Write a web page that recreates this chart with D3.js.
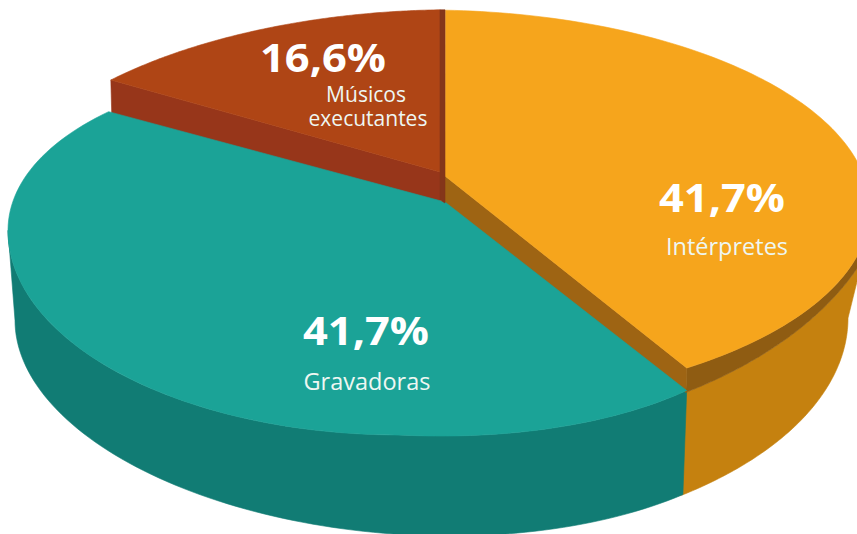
<!DOCTYPE html>
<html lang="pt">
<head>
<meta charset="utf-8">
<title>Distribuição por categoria</title>
<script src="https://cdn.jsdelivr.net/npm/d3@7/dist/d3.min.js"></script>
<style>
  html, body { margin: 0; padding: 0; background: #fff; overflow: hidden; }
  svg { display: block; }
  text { font-family: "Open Sans", sans-serif; fill: #fff; text-anchor: middle; }
  .pct { font-weight: 700; font-size: 40px; }
  .name { font-weight: 400; fill: #eef7f2; }
</style>
</head>
<body>
<svg id="chart" width="857" height="534"></svg>
<script>
// Shares, clockwise from twelve o'clock
const categories = ["Intérpretes", "Gravadoras", "Músicos executantes"];
const shares = [41.7, 41.7, 16.6];

const faceColors = ["#f6a51c", "#1ba397", "#af4515"];
const cutColors  = ["#9e6413", "#117c74", "#97361a"];
const rimColors  = ["#c5810f", "#117c74", "#84361a"];
const bandColor  = "#8f5c12";

const svg = d3.select("#chart");
const rad = Math.PI / 180;

// Tilted-disc geometry: each wedge sits on its own slightly offset ellipse,
// because the slices are pulled apart and seen in perspective.
const topRims = [
  { cx: 430, cy: 207, rx: 440, ry: 197, skew: 0.004, t0: -88, t1: 54.3 },
  { cx: 400, cy: 250, rx: 392, ry: 185, skew: 0.05, t0: 43, t1: 222, fullLowerLeft: true },
  { cx: 430, cy: 209, rx: 440, ry: 199, skew: -0.025, t0: -136.5, t1: -88.7 }
];
const apexes = [[445, 176], [445, 202], [440, 172]];
const depthApexes = [[445, 203], null, [440, 200]];

const tealFloor   = { cx: 410, cy: 340, rx: 395, ry: 195, skew: 0.05 };
const amberFloor  = { cx: 430, cy: 318, rx: 418, ry: 222, skew: 0 };
const amberLip    = { cx: 430, cy: 168, rx: 460, ry: 270, skew: 0 };
const lipTipParam = 56.2;

const pie = d3.pie().sort(null).value(d => d).startAngle(0).endAngle(2 * Math.PI);
const arcs = pie(shares);

const onEllipse = (e, deg) => {
  const a = deg * rad;
  const dx = e.rx * Math.cos(a);
  // The nearest-left quadrant swells toward the viewer: it runs from the
  // leftmost point straight to the lowest point without the shear.
  if (e.fullLowerLeft && deg > 90 && deg < 180) {
    const lift = e.skew * e.rx;
    return [e.cx + dx, e.cy - lift + (e.ry + lift) * Math.sin(a)];
  }
  return [e.cx + dx, e.cy + e.ry * Math.sin(a) + e.skew * dx];
};

// Maps a pie angle inside wedge i to a point on that wedge's outer rim
const rimParam = (i, angle) => {
  const { startAngle, endAngle } = arcs[i];
  const f = (angle - startAngle) / (endAngle - startAngle);
  return topRims[i].t0 + f * (topRims[i].t1 - topRims[i].t0);
};

const rimPoints = i => {
  const { startAngle, endAngle } = arcs[i];
  return d3.range(0, 121).map(k => {
    const a = startAngle + (endAngle - startAngle) * k / 120;
    return onEllipse(topRims[i], rimParam(i, a));
  });
};

const sweep = (e, a, b, n = 90) =>
  d3.range(0, n + 1).map(k => onEllipse(e, a + (b - a) * k / n));

const closed = d3.line().curve(d3.curveLinear);
const poly = (pts, fill) =>
  svg.append("path")
    .attr("d", closed(pts) + "Z")
    .attr("fill", fill)
    .attr("stroke", fill)
    .attr("stroke-width", 0.6);

// Outer walls; the amber wall runs slightly behind the teal one so no seam shows
poly([
  ...sweep(amberLip, lipTipParam, 20),
  ...sweep(amberFloor, 0, 52.8),
  [678, 496], [678, 394]
], rimColors[0]);

poly([
  ...sweep(topRims[1], 43, 180),
  ...sweep(tealFloor, 180, 46.3)
], rimColors[1]);

// Dark lip under the amber wedge's outer edge
poly([
  ...sweep(topRims[0], 54.3, -4),
  ...sweep(amberLip, 18, lipTipParam)
], bandColor);

// Cut faces exposed where the wedges separate
const tipAmber = onEllipse(topRims[0], topRims[0].t1);
const tipAmberLow = onEllipse(amberLip, lipTipParam);
poly([apexes[0], tipAmber, tipAmberLow, depthApexes[0]], cutColors[0]);

const leftMaroon = onEllipse(topRims[2], topRims[2].t0);
poly([
  leftMaroon, apexes[2], [apexes[2][0], depthApexes[2][1] + 8],
  [leftMaroon[0] + 1, leftMaroon[1] + 38]
], cutColors[2]);

// Top faces
arcs.forEach((d, i) => {
  poly([apexes[i], ...rimPoints(i)], faceColors[i]);
});

// Narrow vertical edge between maroon and amber
const maroonTop = onEllipse(topRims[2], topRims[2].t1);
poly([
  maroonTop,
  [apexes[0][0], maroonTop[1]],
  depthApexes[0],
  depthApexes[2]
], rimColors[2]);

// Labels
const fmt = d3.formatLocale({ decimal: ",", thousands: ".", grouping: [3], currency: ["", ""] }).format(".1f");
const pctAnchors = [[722, 212], [366, 345], [323, 72]];
const pctWidth = 126;
const nameLines = [["Intérpretes"], ["Gravadoras"], ["Músicos", "executantes"]];
const nameSizes = [23.5, 23.5, 21];
const nameAnchors = [
  [[727, 255]],
  [[367, 390]],
  [[366, 102], [368, 126]]
];

svg.selectAll("text.pct").data(arcs).join("text")
  .attr("class", "pct")
  .attr("x", (d, i) => pctAnchors[i][0])
  .attr("y", (d, i) => pctAnchors[i][1])
  .attr("textLength", pctWidth)
  .attr("lengthAdjust", "spacingAndGlyphs")
  .text(d => fmt(d.data) + "%");

nameLines.forEach((lines, i) => {
  lines.forEach((line, j) => {
    svg.append("text").attr("class", "name")
      .attr("x", nameAnchors[i][j][0])
      .attr("y", nameAnchors[i][j][1])
      .style("font-size", nameSizes[i] + "px")
      .text(line);
  });
});
</script>
</body>
</html>
